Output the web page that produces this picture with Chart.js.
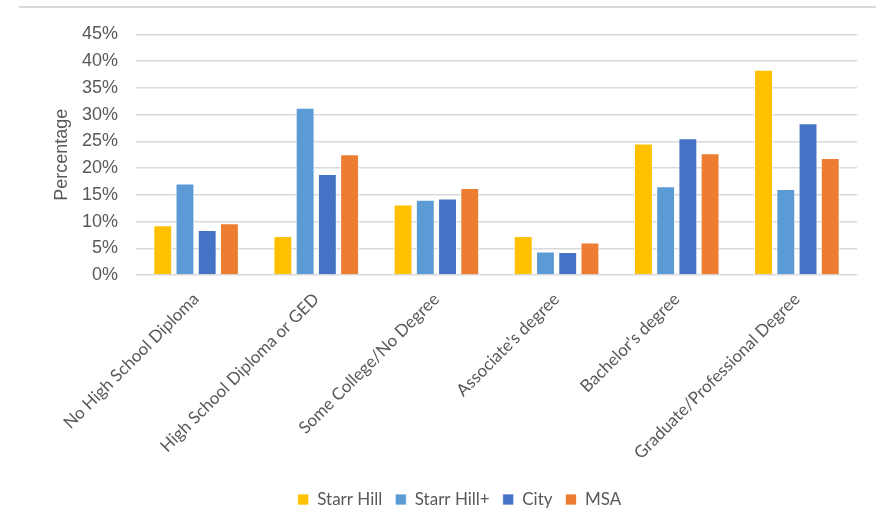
<!DOCTYPE html>
<html>
<head>
<meta charset="utf-8">
<script src="https://cdn.jsdelivr.net/npm/chart.js@4"></script>
<style>
html,body{margin:0;padding:0;background:#fff;}
canvas{display:block;}
</style>
</head>
<body>
<canvas id="c" width="876" height="530"></canvas>
<script>
const categories = ["No High School Diploma", "High School Diploma or GED", "Some College/No Degree", "Associate's degree", "Bachelor's degree", "Graduate/Professional Degree"];
const seriesNames = ["Starr Hill", "Starr Hill+", "City", "MSA"];
const starrHill = [9.3, 7.3, 13.2, 7.3, 24.6, 38.4];
const starrHillPlus = [17.1, 31.3, 14.1, 4.4, 16.6, 16.1];
const city = [8.4, 18.9, 14.3, 4.3, 25.6, 28.4];
const msa = [9.7, 22.6, 16.3, 6.1, 22.8, 21.9];
const yMin = 0, yMax = 45, yStep = 5;
const yTitle = "Percentage";

const colors = ["#FFC000", "#5B9BD5", "#4472C4", "#ED7D31"];
const values = [starrHill, starrHillPlus, city, msa];
const padBottom = 12;
const plotBottom = 275;
const legendShift = 31;

const topLine = {
  id: 'topLine',
  beforeDraw(chart) {
    const ctx = chart.ctx;
    ctx.save();
    ctx.fillStyle = '#fff';
    ctx.fillRect(0, 0, chart.width, chart.height);
    ctx.strokeStyle = '#d9d9d9';
    ctx.lineWidth = 2;
    ctx.beginPath();
    ctx.moveTo(19, 7);
    ctx.lineTo(876, 7);
    ctx.stroke();
    ctx.restore();
  }
};

const shiftLegend = {
  id: 'shiftLegend',
  afterLayout(chart) {
    const lg = chart.legend;
    if (lg) { lg.left += legendShift; lg.right += legendShift; }
  }
};

new Chart(document.getElementById('c'), {
  type: 'bar',
  data: {
    labels: categories,
    datasets: seriesNames.map((n, i) => ({
      label: n,
      data: values[i],
      backgroundColor: colors[i],
      borderColor: 'rgba(255,255,255,0.7)',
      borderWidth: 1,
      barPercentage: 0.85,
      categoryPercentage: 0.74
    }))
  },
  options: {
    responsive: false,
    devicePixelRatio: 1,
    animation: false,
    layout: { padding: { top: 34.5, right: 19, left: 0, bottom: padBottom } },
    plugins: {
      legend: {
        position: 'bottom',
        labels: {
          boxWidth: 11, boxHeight: 11, padding: 13,
          color: '#595959',
          font: { family: 'Lato', size: 17 }
        }
      },
      tooltip: { enabled: false }
    },
    scales: {
      x: {
        grid: { display: false },
        border: { display: false },
        ticks: {
          minRotation: 45, maxRotation: 45,
          color: '#595959',
          font: { family: 'Lato', size: 17 },
          padding: 6
        },
        afterFit(s) {
          const lg = s.chart.legend;
          s.height = s.chart.height - padBottom - (lg ? lg.height : 0) - plotBottom;
        }
      },
      y: {
        min: yMin, max: yMax,
        grid: { color: '#d9d9d9', lineWidth: 1.5, drawTicks: false },
        border: { display: false },
        ticks: {
          stepSize: yStep,
          padding: 18,
          color: '#595959',
          font: { family: 'Liberation Sans', size: 18 },
          callback: v => v + '%'
        },
        title: {
          display: true, text: yTitle, color: '#595959',
          font: { family: 'Liberation Sans', size: 18 },
          padding: { top: 51, bottom: 0 }
        },
        afterFit(s) { s.width = 136; }
      }
    }
  },
  plugins: [topLine, shiftLegend]
});
</script>
</body>
</html>
